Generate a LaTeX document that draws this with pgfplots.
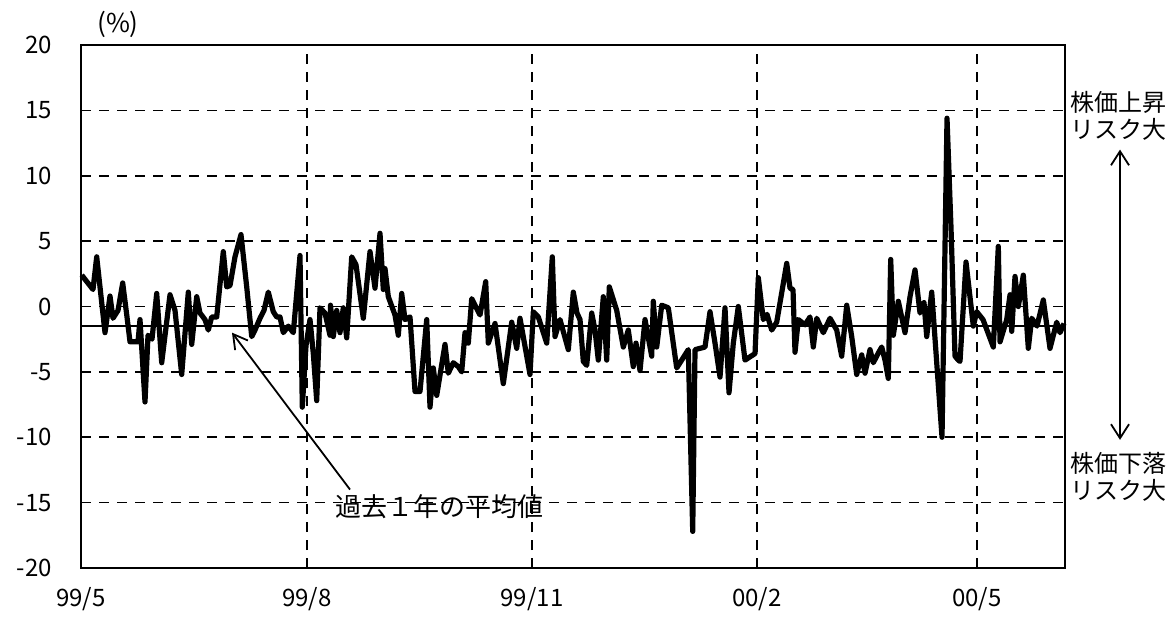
\documentclass[border=0pt]{standalone}
\usepackage{fontspec}
\setmainfont{Noto Sans CJK JP}
\usepackage{pgfplots}
\pgfplotsset{compat=1.18}
\usetikzlibrary{arrows.meta}
\begin{document}
\begin{tikzpicture}
\begin{axis}[
  name=ax,
  scale only axis,
  width=492pt, height=261.5pt,
  xmin=81, xmax=1065, ymin=-20, ymax=20,
  xtick={81,307,532,757,977},
  xticklabels={99/5,99/8,99/11,00/2,00/5},
  ytick={-20,-15,...,20},
  major tick length=0pt,
  grid=major,
  major grid style={black, line width=0.8pt, dash pattern=on 5pt off 4pt},
  axis line style={black, line width=1.1pt},
  tick label style={font=\fontsize{12}{13}\selectfont},
  /pgf/number format/assume math mode=true,
  yticklabel style={xshift=-11pt},
  xticklabel style={yshift=-6pt},
  clip=false,
]
\addplot[black, line width=1.1pt] coordinates {(81,-1.5) (1065,-1.5)};
\addplot[black, line width=2.6pt, line join=round] coordinates {
(81.7,2.4) (93,1.3) (96.7,3.8) (105,-2.0) (110,0.8) (113,-0.9) (118,-0.3) (122.7,1.8) (127,-0.8) (130,-2.7) (138,-2.7) (140,-1.0) (145,-7.3) (148,-2.2) (152,-2.5) (156.7,1.0) (161.7,-4.3) (170,0.9) (175,-0.3) (181.7,-5.2) (188.3,1.1) (191.7,-2.9) (196.7,0.75) (200,-0.5) (205,-1.0) (208.3,-1.8) (211.7,-0.8) (216.7,-0.8) (223.3,4.2) (226.7,1.5) (230,1.6) (235,3.8) (241,5.5) (246.7,1.5) (251.7,-2.3) (255,-1.8) (260,-0.9) (264,-0.3) (268.3,1.1) (273.3,-0.4) (276.7,-0.8) (280,-0.8) (283.3,-2.0) (288.3,-1.5) (293.3,-2.0) (300,3.9) (302.3,-7.7) (306,-3.0) (310,-1.0) (313.3,-3.6) (316.7,-7.2) (320,-0.1) (325,-0.5) (330,-2.2) (330.5,0.1) (333.3,-2.3) (336.7,-0.3) (340,-2.0) (343.3,-0.1) (346.7,-2.4) (351.7,3.8) (356,3.2) (363.3,-0.9) (370,4.2) (375,1.4) (380,5.6) (383.3,1.3) (385,2.9) (388.3,0.75) (395,-0.65) (398.3,-2.2) (401.7,1.0) (405,-1.0) (410,-0.8) (415,-6.5) (420,-6.5) (426.7,-1.0) (430,-7.7) (433.3,-4.7) (436.7,-6.8) (445,-2.9) (448.3,-5.1) (453.3,-4.3) (458.3,-4.6) (461.7,-5.0) (465,-2.0) (468.3,-2.8) (471.7,0.6) (480,-0.65) (485.7,1.9) (488.3,-2.8) (495,-1.3) (503.3,-5.9) (511.7,-1.2) (516.7,-3.2) (520,-0.9) (530,-5.2) (533.3,-0.4) (538.3,-0.8) (546.7,-2.8) (552.3,3.8) (555,-2.3) (560,-1.0) (568.3,-3.3) (573.3,1.1) (577,-0.5) (580,-1.0) (583.3,-4.2) (586.7,-4.5) (591.7,-0.5) (595,-1.8) (598.3,-4.1) (603.3,0.75) (606.7,-4.1) (609.3,1.5) (616.7,-0.3) (623.3,-3.1) (628.3,-1.8) (633.3,-4.6) (636,-2.8) (640,-4.9) (645,-1.0) (651.7,-3.8) (653.3,0.4) (656.7,-3.1) (661.7,0.1) (668.3,-0.1) (676.7,-4.7) (688.3,-3.3) (692.7,-17.2) (695,-3.3) (705,-3.1) (710,-0.4) (715,-2.8) (720,-5.4) (725,-0.1) (729,-6.6) (733.3,-2.8) (738.3,0.0) (745,-4.1) (755,-3.6) (758.3,2.2) (763.3,-1.0) (767,-0.6) (771.7,-1.8) (776.7,-1.2) (786.7,3.3) (790,1.4) (793,1.3) (795,-3.5) (798.3,-1.0) (805,-1.4) (810,-0.8) (813.3,-3.1) (816.7,-0.9) (823.3,-2.0) (830,-0.9) (836.7,-1.8) (841.7,-3.8) (846.7,0.1) (851.7,-2.3) (856.7,-5.2) (861.7,-3.7) (865,-5.1) (870,-3.3) (873.3,-4.3) (878,-3.6) (881.7,-3.1) (885,-4.1) (888.3,-5.5) (890.7,3.6) (893.3,-2.2) (898.3,0.4) (905,-2.0) (910,0.75) (915,2.8) (920,-0.5) (924,0.3) (926.7,-2.3) (931.7,1.1) (942,-10.0) (947,14.4) (951,6) (955,-3.8) (958.3,-4.1) (960,-4.2) (966,3.4) (973.3,-1.5) (976.7,-0.4) (983,-1.0) (993.3,-3.1) (998.3,4.6) (1000,-2.7) (1006.7,-1.0) (1010,0.9) (1011.7,-1.9) (1015,2.3) (1018.3,0.0) (1023.3,2.4) (1028.3,-3.2) (1031.7,-0.9) (1037,-1.5) (1043.3,0.5) (1050,-3.2) (1056.7,-1.2) (1060,-2.0) (1064,-1.3)
};
\node[font=\fontsize{13}{14}\selectfont] at (axis cs:118,21.6) {(\%)};
\draw[black, line width=0.9pt, -{Straight Barb[length=7pt,width=8pt]}] (axis cs:350,-14.0) -- (axis cs:232,-2.0);
\node[anchor=west, font=\fontsize{13}{14}\selectfont] at (axis cs:328,-15.3) {過去１年の平均値};
\node[align=center, font=\fontsize{12}{13.5}\selectfont, inner sep=0pt] at (axis cs:1118,14.6) {株価上昇\\リスク大};
\node[align=center, font=\fontsize{12}{13.5}\selectfont, inner sep=0pt] at (axis cs:1118,-13.0) {株価下落\\リスク大};
\draw[black, line width=0.9pt, {Straight Barb[length=7pt,width=9pt]}-{Straight Barb[length=7pt,width=9pt]}] (axis cs:1120,12.0) -- (axis cs:1120,-10.2);
\end{axis}
\path ([xshift=-40.5pt,yshift=-21.5pt]ax.south west) rectangle ([xshift=52.5pt,yshift=22.5pt]ax.north east);
\end{tikzpicture}
\end{document}
